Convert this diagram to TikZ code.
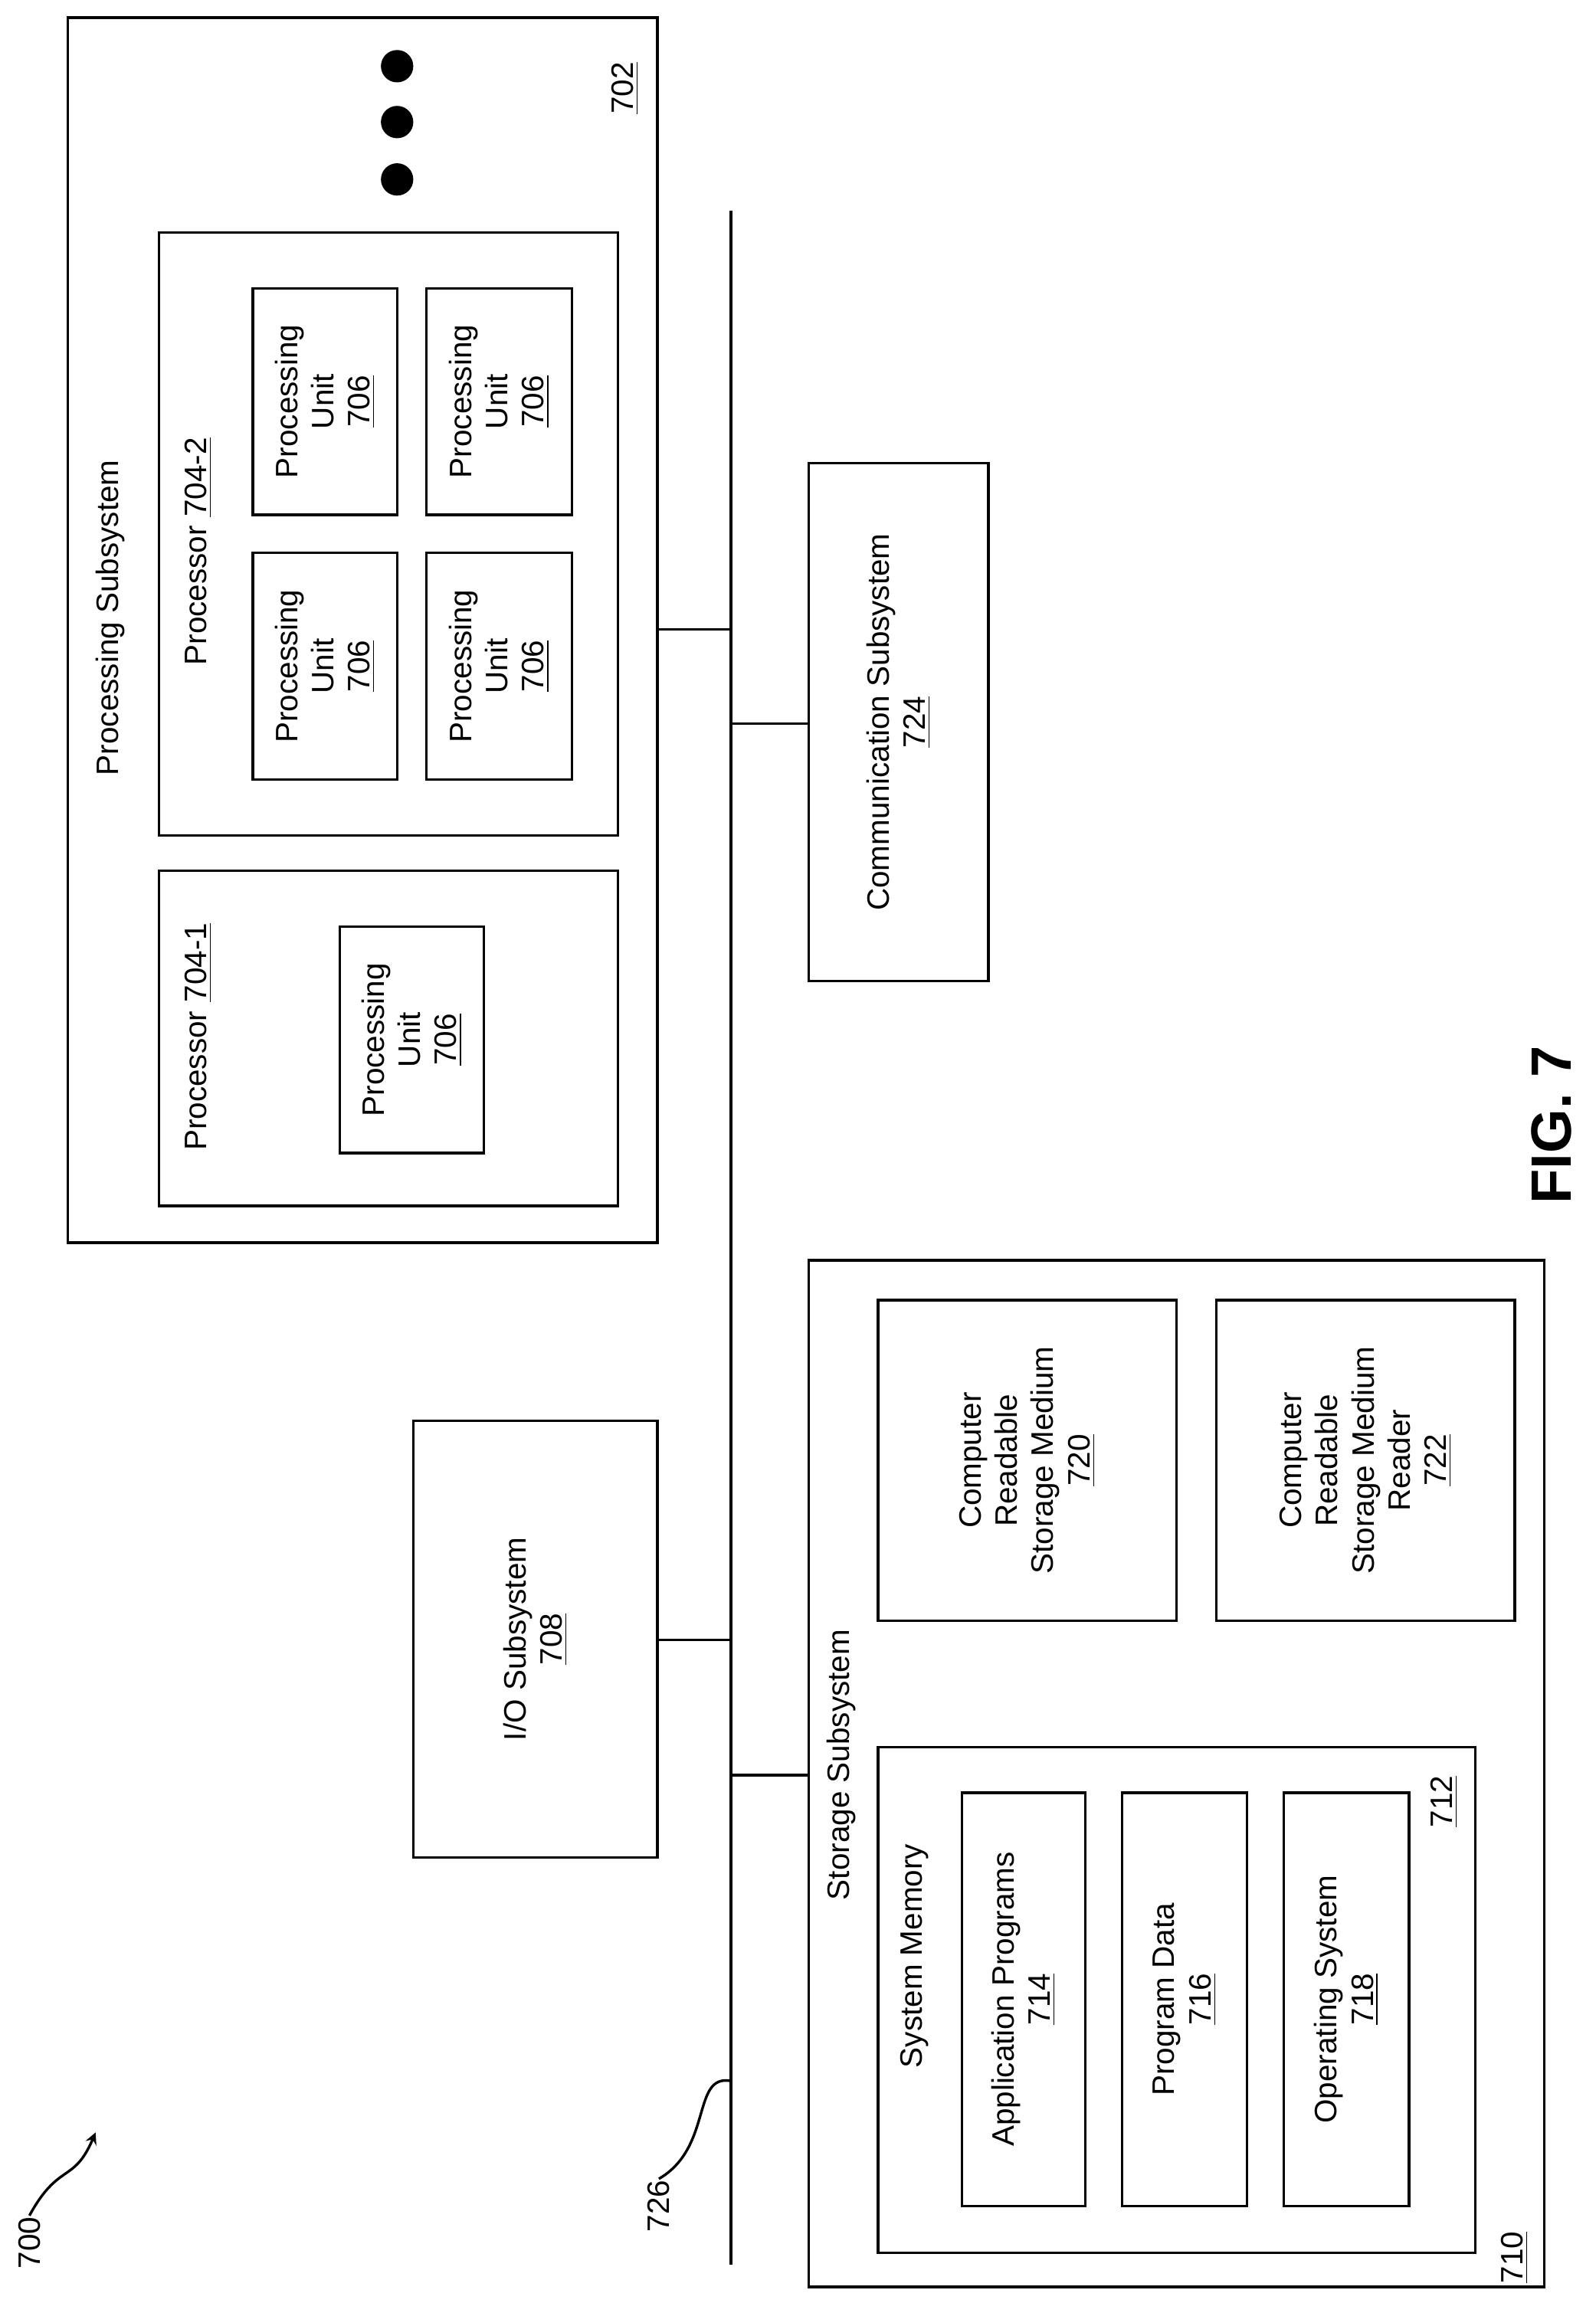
\documentclass[tikz,border=0pt]{standalone}
\usepackage{fontspec}
\setmainfont{Liberation Sans}
\usetikzlibrary{positioning}
\newcommand{\bx}[6][]{% name, x1, y1, x2, y2
  \node[box,#1,minimum width={(#5-#3)*0.02cm},minimum height={(#6-#4)*0.02cm}] (#2) at ({(#3+#5)/2},{(#4+#6)/2}) {};}
\begin{document}
\begin{tikzpicture}[x=0.02cm,y=-0.02cm,line width=1pt,
  box/.style={draw,inner sep=0pt,line width=1pt},
  lbl/.style={rotate=90,align=center,font=\fontsize{12}{14}\selectfont,inner sep=0pt}]

\useasboundingbox (0,0) rectangle (1085,1566);

% processing subsystem
\bx{ps}{46}{12}{447}{845}
\node[lbl] at (75,420) {Processing Subsystem};
\node[lbl] at (425,60) {\underline{702}};
\foreach \y in {45,83,122} \fill (270,\y) circle (11);

\bx{pr2}{108}{158}{420}{568}
\node[lbl] at (135,375) {Processor \underline{704-2}};
\bx{pua}{172}{196}{270}{350}
\bx{pub}{290}{196}{389}{350}
\bx{puc}{172}{376}{270}{530}
\bx{pud}{290}{376}{389}{530}
\foreach \n in {pua,pub,puc,pud}
  \node[lbl] at (\n) {Processing\\Unit\\\underline{706}};

\bx{pr1}{108}{592}{420}{820}
\node[lbl] at (135,705) {Processor \underline{704-1}};
\bx{pue}{231}{630}{329}{784}
\node[lbl] at (pue) {Processing\\Unit\\\underline{706}};

% bus
\coordinate (bt) at (497,143);
\coordinate (bb) at (497,1540);
\draw (bt) -- (bb);
\coordinate (b1) at (497,428);
\coordinate (b2) at (497,492);
\coordinate (b3) at (497,1115);
\coordinate (b4) at (497,1207);

\bx{cs}{550}{315}{672}{667}
\node[lbl] at (cs) {Communication Subsystem\\\underline{724}};
\bx{io}{281}{966}{447}{1263}
\node[lbl] at (io) {I/O Subsystem\\\underline{708}};

\draw (ps.east |- b1) -- (b1);
\draw (b2) -- (cs.west |- b2);
\draw (io.east |- b3) -- (b3);

% storage subsystem
\bx{ss}{550}{857}{1050}{1555}
\draw (b4) -- (ss.west |- b4);
\node[lbl] at (572,1200) {Storage Subsystem};
\node[lbl] at (1030,1535) {\underline{710}};
\bx{crm}{597}{884}{800}{1102}
\node[lbl] at (crm) {Computer\\Readable\\Storage Medium\\\underline{720}};
\bx{crr}{827}{884}{1030}{1102}
\node[lbl] at (crr) {Computer\\Readable\\Storage Medium\\Reader\\\underline{722}};

\bx{sm}{597}{1188}{1003}{1532}
\node[lbl] at (622,1330) {System Memory};
\node[lbl] at (982,1225) {\underline{712}};
\bx{ap}{654}{1219}{738}{1500}
\node[lbl] at (ap) {Application Programs\\\underline{714}};
\bx{pd}{763}{1219}{848}{1500}
\node[lbl] at (pd) {Program Data\\\underline{716}};
\bx{os}{873}{1219}{958}{1500}
\node[lbl] at (os) {Operating System\\\underline{718}};

% reference labels
\coordinate (bs) at (497,1415);
\node[lbl] (l726) at (448,1500) {726};
\draw (bs) .. controls (470,1410) and (485,1460) .. (l726.east);
\node[lbl] (l700) at (20,1525) {700};
\draw[-stealth] (l700.east) .. controls (40,1470) and (50,1485) .. (65,1450);

\node[lbl,font=\bfseries\fontsize{22}{26}\selectfont] at (1055,765) {FIG. 7};
\end{tikzpicture}
\end{document}
